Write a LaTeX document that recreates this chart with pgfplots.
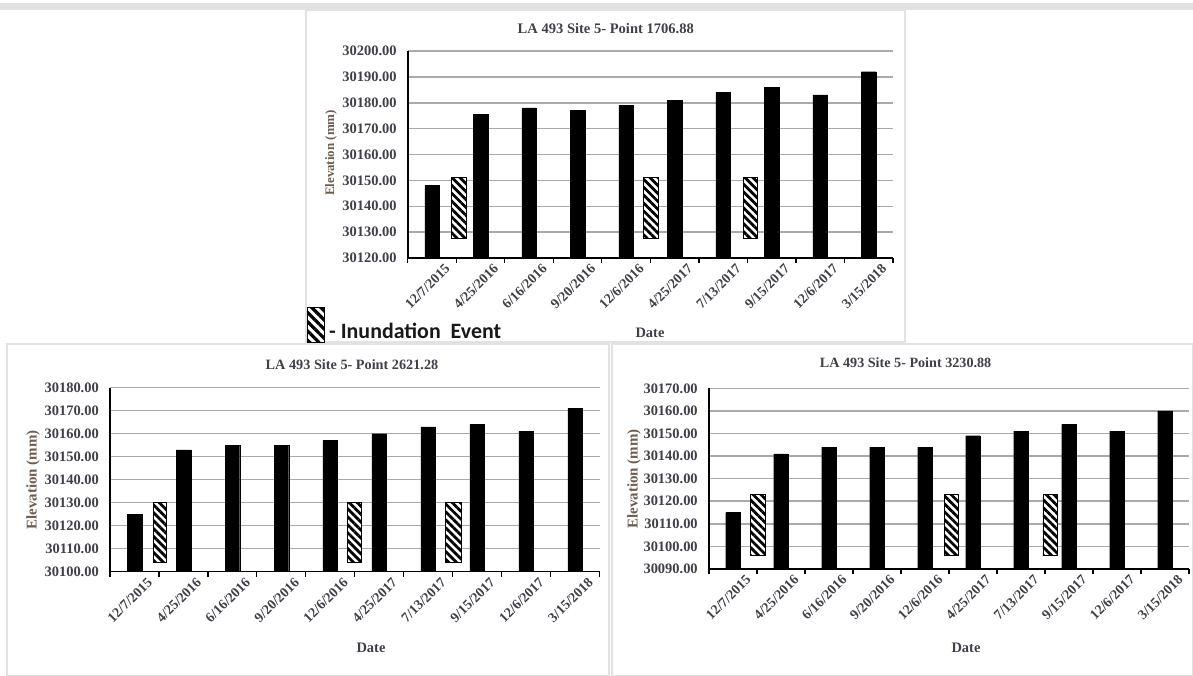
\documentclass[border=0pt]{standalone}
\usepackage{pgfplots}
\pgfplotsset{compat=1.18}
\usepackage{pgfplotstable}
\usetikzlibrary{patterns.meta}
\usepackage{fontspec}
\setmainfont{Liberation Serif}
\newfontfamily\calibri{Carlito}

\definecolor{ticktext}{RGB}{64,64,72}
\definecolor{labeltext}{RGB}{110,92,80}
\definecolor{gridgray}{RGB}{170,170,170}
\definecolor{framegray}{RGB}{226,226,226}

% hatched boxes marking inundation events
\tikzset{flood/.style={draw=black, line width=0.9bp, preaction={fill=white},
  pattern={Lines[angle=-45,distance=5.6bp,line width=2.8bp]}}}

% elevation survey at each monitoring point (mm)
\pgfplotstableread{
idx elev
0 30148
1 30175.5
2 30178
3 30177
4 30179
5 30181
6 30184
7 30186
8 30183
9 30192
}\pointA
\pgfplotstableread{
idx elev
0 30125
1 30153
2 30155
3 30155
4 30157
5 30160
6 30163
7 30164
8 30161
9 30171
}\pointB
\pgfplotstableread{
idx elev
0 30115
1 30141
2 30144
3 30144
4 30144
5 30149
6 30151
7 30154
8 30151
9 30160
}\pointC

\pgfplotsset{
  elevpanel/.style={
    scale only axis,
    scaled y ticks=false,
    xmin=-0.5, xmax=9.5,
    axis x line*=bottom, axis y line*=left,
    axis line style={line width=1.5bp, black, -},
    xtick={0,...,9},
    xticklabels={12/7/2015,4/25/2016,6/16/2016,9/20/2016,12/6/2016,4/25/2017,7/13/2017,9/15/2017,12/6/2017,3/15/2018},
    minor xtick={-0.5,0.5,...,9.5},
    major tick length=0pt, minor tick length=5bp, tick align=outside,
    every minor tick/.append style={line width=1.2bp, black},
    ymajorgrids, major grid style={gridgray, line width=1.5bp},
    xticklabel style={font=\fontsize{14}{14}\selectfont\bfseries, text=ticktext, rotate=45,
      anchor=north east, inner sep=0pt, xshift=5bp, yshift=-12bp},
    yticklabel style={font=\fontsize{14.5}{14.5}\selectfont\bfseries, text=ticktext,
      anchor=east, inner sep=0pt, xshift=-11bp},
  },
  elevbars/.style={ybar, bar width=0.3, fill=black, draw=black, bar shift=0pt},
}

\begin{document}
\begin{tikzpicture}
\useasboundingbox (0,0) rectangle (1193bp,-676bp);
\fill[white] (0,0) rectangle (1193bp,-676bp);

\begin{scope}[x=1bp, y=1bp]
  % panel frames
  \fill[framegray] (0,-3) rectangle (1193,-10);
  \draw[framegray, line width=2] (306,-10) rectangle (905,-342);
  \draw[framegray, line width=2] (7,-344) rectangle (609,-676);
  \draw[framegray, line width=2] (612,-344) rectangle (1193,-676);
\end{scope}

% ---------- Point 1706.88 ----------
\begin{axis}[elevpanel, at={(407.8bp,-258bp)}, anchor=south west,
  width=485.2bp, height=207bp, ymin=30120, ymax=30200,
  ytick={30120,30130,30140,30150,30160,30170,30180,30190,30200},
  yticklabels={30120.00,30130.00,30140.00,30150.00,30160.00,30170.00,30180.00,30190.00,30200.00}]
\addplot[elevbars] table[x=idx, y=elev] {\pointA};
\addplot[flood] coordinates {(0.40,30127.6) (0.71,30127.6) (0.71,30151) (0.40,30151)} -- cycle;
\addplot[flood] coordinates {(4.36,30127.6) (4.66,30127.6) (4.66,30151) (4.36,30151)} -- cycle;
\addplot[flood] coordinates {(6.42,30127.6) (6.71,30127.6) (6.71,30151) (6.42,30151)} -- cycle;
\end{axis}

% ---------- Point 2621.28 ----------
\begin{axis}[elevpanel, at={(110bp,-571.7bp)}, anchor=south west,
  width=489.6bp, height=184bp, ymin=30100, ymax=30180,
  ytick={30100,30110,30120,30130,30140,30150,30160,30170,30180},
  yticklabels={30100.00,30110.00,30120.00,30130.00,30140.00,30150.00,30160.00,30170.00,30180.00}]
\addplot[elevbars] table[x=idx, y=elev] {\pointB};
\addplot[flood] coordinates {(0.38,30104.2) (0.66,30104.2) (0.66,30130) (0.38,30130)} -- cycle;
\addplot[flood] coordinates {(4.35,30104.2) (4.64,30104.2) (4.64,30130) (4.35,30130)} -- cycle;
\addplot[flood] coordinates {(6.35,30104.2) (6.67,30104.2) (6.67,30130) (6.35,30130)} -- cycle;
\end{axis}

% ---------- Point 3230.88 ----------
\begin{axis}[elevpanel, at={(708.9bp,-569bp)}, anchor=south west,
  width=480bp, height=180.7bp, ymin=30090, ymax=30170,
  ytick={30090,30100,30110,30120,30130,30140,30150,30160,30170},
  yticklabels={30090.00,30100.00,30110.00,30120.00,30130.00,30140.00,30150.00,30160.00,30170.00}]
\addplot[elevbars] table[x=idx, y=elev] {\pointC};
\addplot[flood] coordinates {(0.37,30096) (0.67,30096) (0.67,30123) (0.37,30123)} -- cycle;
\addplot[flood] coordinates {(4.40,30096) (4.70,30096) (4.70,30123) (4.40,30123)} -- cycle;
\addplot[flood] coordinates {(6.46,30096) (6.76,30096) (6.76,30123) (6.46,30123)} -- cycle;
\end{axis}

\begin{scope}[x=1bp, y=1bp]
  % titles
  \node[text=ticktext, font=\fontsize{14.6}{14.6}\selectfont\bfseries] at (605.8,-29) {LA 493 Site 5- Point 1706.88};
  \node[text=ticktext, font=\fontsize{14.3}{14.3}\selectfont\bfseries] at (352,-365) {LA 493 Site 5- Point 2621.28};
  \node[text=ticktext, font=\fontsize{14.2}{14.2}\selectfont\bfseries] at (905.6,-363) {LA 493 Site 5- Point 3230.88};
  % axis labels
  \node[text=labeltext, rotate=90, font=\fontsize{13}{13}\selectfont\bfseries] at (331,-153) {Elevation (mm)};
  \node[text=labeltext, rotate=90, font=\fontsize{15}{15}\selectfont\bfseries] at (33,-480) {Elevation (mm)};
  \node[text=labeltext, rotate=90, font=\fontsize{15}{15}\selectfont\bfseries] at (634,-479) {Elevation (mm)};
  \node[text=ticktext, font=\fontsize{14.5}{14.5}\selectfont\bfseries] at (650,-333) {Date};
  \node[text=ticktext, font=\fontsize{14.5}{14.5}\selectfont\bfseries] at (371,-648) {Date};
  \node[text=ticktext, font=\fontsize{14.5}{14.5}\selectfont\bfseries] at (966,-648) {Date};
  % key for the hatched boxes
  \draw[draw=black, line width=1bp, preaction={fill=white},
    pattern={Lines[angle=-45,distance=6.5bp,line width=3.2bp]}] (307,-307) rectangle (324,-342);
  \node[anchor=base west, inner sep=0pt, text=black!90, font=\calibri\bfseries\fontsize{22}{22}\selectfont] at (329,-338) {- Inundation\ \ Event};
\end{scope}
\end{tikzpicture}
\end{document}
